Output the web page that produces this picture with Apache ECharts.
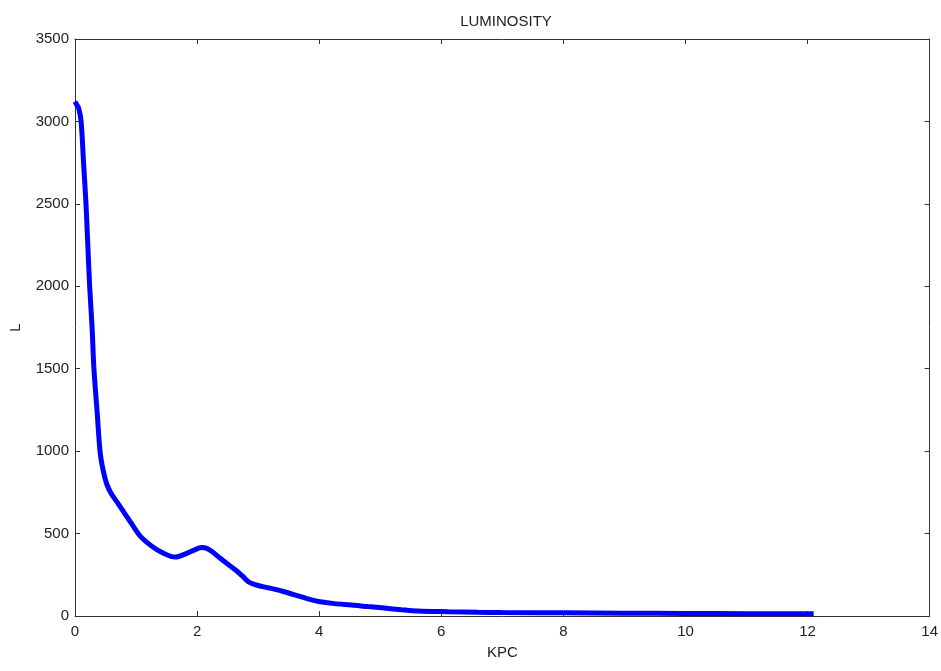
<!DOCTYPE html>
<html>
<head>
<meta charset="utf-8">
<script src="https://cdn.jsdelivr.net/npm/echarts@6/dist/echarts.min.js"></script>
<style>
html,body{margin:0;padding:0;background:#fff;}
#c{width:941px;height:671px;}
</style>
</head>
<body>
<div id="c"></div>
<script>
var kpc = [0.00,0.03,0.06,0.10,0.14,0.18,0.21,0.24,0.28,0.31,0.36,0.41,0.46,0.52,0.59,0.70,0.80,0.92,1.08,1.30,1.45,1.57,1.65,1.80,1.95,2.07,2.15,2.25,2.38,2.50,2.63,2.75,2.85,3.00,3.18,3.40,3.61,3.80,3.99,4.25,4.53,4.80,5.07,5.35,5.62,6.12,6.60,7.00,8.00,9.00,10.00,11.00,12.10];
var lum = [3120,3100,3080,3000,2750,2500,2250,2000,1750,1500,1250,1000,885,800,745,685,630,564,480,412,380,362,358,375,400,415,412,390,350,315,279,240,206,185,170,150,127,105,88,75,67,57,48,38,30,26,23,21,19,17,15,14,13];
var xTicks = [0,2,4,6,8,10,12,14];
var yTicks = [0,500,1000,1500,2000,2500,3000,3500];
var titleText = 'LUMINOSITY';
var xName = 'KPC';
var yName = 'L';

var pts = kpc.map(function(x,i){return [x,lum[i]];});
var font = "'Liberation Sans Narrow', 'Liberation Sans', Arial, sans-serif";
var axisCol = '#333';
function baseAxis(extra){
  var a = {
    type:'value',
    axisLine:{show:true,onZero:false,lineStyle:{color:axisCol,width:1}},
    axisTick:{show:true,inside:true,length:5,lineStyle:{color:axisCol}},
    splitLine:{show:false},
    axisLabel:{color:'#222',fontFamily:font,fontSize:15}
  };
  for (var k in extra) a[k]=extra[k];
  return a;
}
var chart = echarts.init(document.getElementById('c'));
chart.setOption({
  animation:false,
  backgroundColor:'#fff',
  title:{text:titleText,left:501,top:9,textAlign:'center',
    textStyle:{fontFamily:font,fontSize:15,fontWeight:'normal',color:'#222'}},
  grid:{left:72,right:11,top:39,bottom:55,containLabel:false},
  xAxis:[
    baseAxis({min:0,max:14,interval:2,position:'bottom',name:xName,nameLocation:'middle',nameGap:29,
      nameTextStyle:{color:'#222',fontFamily:font,fontSize:15},
      axisLabel:{color:'#222',fontFamily:font,fontSize:15,margin:8,
        formatter:function(v){return xTicks.indexOf(v)>=0?String(v):'';}}}),
    baseAxis({min:0,max:14,interval:2,position:'top',axisLabel:{show:false}})
  ],
  yAxis:[
    baseAxis({min:0,max:3500,interval:500,position:'left',name:yName,nameLocation:'middle',nameGap:52,
      nameTextStyle:{color:'#222',fontFamily:font,fontSize:15},
      axisLabel:{color:'#222',fontFamily:font,fontSize:15,margin:6,
        formatter:function(v){return yTicks.indexOf(v)>=0?String(v):'';}}}),
    baseAxis({min:0,max:3500,interval:500,position:'right',axisLabel:{show:false}})
  ],
  series:[{
    type:'line',
    data:pts,
    xAxisIndex:0,yAxisIndex:0,
    showSymbol:false,
    smooth:0.3,
    lineStyle:{color:'#0000ff',width:5},
    itemStyle:{color:'#0000ff'},
    z:1
  }]
});
</script>
</body>
</html>
